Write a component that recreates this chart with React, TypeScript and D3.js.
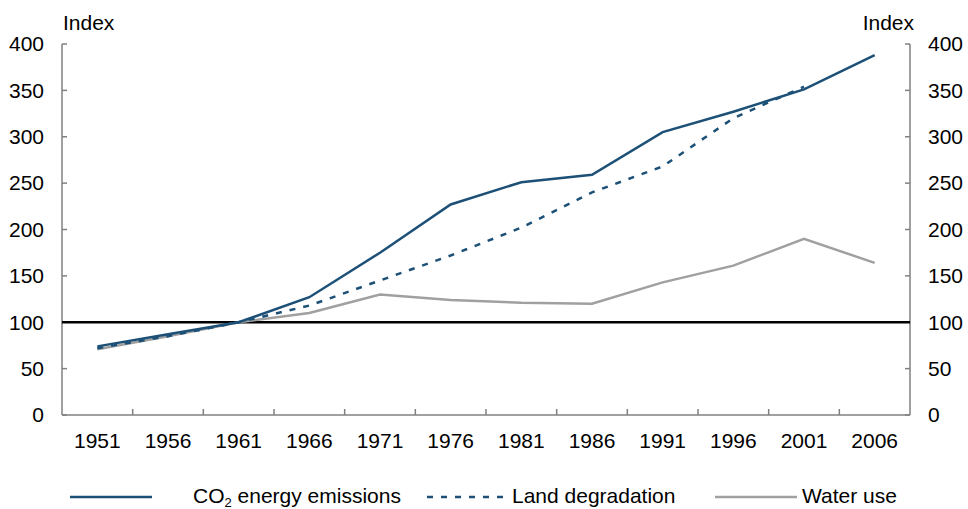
import React from 'react';
import * as d3 from 'd3';

const years = ['1951', '1956', '1961', '1966', '1971', '1976', '1981', '1986', '1991', '1996', '2001', '2006'];
const co2Values = [74, 87, 100, 127, 175, 227, 251, 259, 305, 327, 351, 388];
const landValues = [72, 85, 100, 118, 145, 172, 202, 240, 268, 320, 354];
const waterValues = [71, 85, 100, 110, 130, 124, 121, 120, 143, 161, 190, 164];
const yTicks = [0, 50, 100, 150, 200, 250, 300, 350, 400];

const W = 968;
const H = 509;
const margin = { left: 62, right: 58, top: 44, bottom: 94 };
const FONT = '"Liberation Sans", Arial, sans-serif';
const FS = 21;
const BLUE = '#1d5077';
const GREY = '#a0a0a0';
const AXIS = '#808080';

const App: React.FC = () => {
  const x = d3.scaleBand<string>()
    .domain(years)
    .range([margin.left, W - margin.right]);
  const y = d3.scaleLinear()
    .domain([0, 400])
    .range([H - margin.bottom, margin.top]);

  const cx = (i: number) => (x(years[i]) as number) + x.bandwidth() / 2;
  const line = d3.line<number>()
    .x((_, i) => cx(i))
    .y(d => y(d));

  const x0 = margin.left;
  const x1 = W - margin.right;
  const yBase = y(0);
  const legY = 497;

  return (
    <svg width={W} height={H} style={{ display: 'block', position: 'absolute', left: 0, top: 0 }} fontFamily={FONT}>
      <rect width={W} height={H} fill="white" />
      {/* axes */}
      <line x1={x0} x2={x0} y1={y(400)} y2={yBase} stroke={AXIS} strokeWidth={1.5} />
      <line x1={x1} x2={x1} y1={y(400)} y2={yBase} stroke={AXIS} strokeWidth={1.5} />
      <line x1={x0} x2={x1} y1={yBase} y2={yBase} stroke={AXIS} strokeWidth={1.5} />
      {yTicks.map(t => (
        <g key={t}>
          <line x1={x0} x2={x0 + 5} y1={y(t)} y2={y(t)} stroke={AXIS} strokeWidth={1.5} />
          <line x1={x1 - 5} x2={x1} y1={y(t)} y2={y(t)} stroke={AXIS} strokeWidth={1.5} />
          <text x={x0 - 18} y={y(t)} dy="0.35em" textAnchor="end" fontSize={FS} fill="#000">{t}</text>
          <text x={x1 + 18} y={y(t)} dy="0.35em" textAnchor="start" fontSize={FS} fill="#000">{t}</text>
        </g>
      ))}
      {years.slice(1).map(yr => (
        <line key={yr} x1={x(yr) as number} x2={x(yr) as number} y1={yBase} y2={yBase - 6} stroke={AXIS} strokeWidth={1.5} />
      ))}
      {years.map((yr, i) => (
        <text key={yr} x={cx(i)} y={yBase + 33} textAnchor="middle" fontSize={FS} fill="#000">{yr}</text>
      ))}
      <text x={63} y={30} fontSize={FS} fill="#000">Index</text>
      <text x={914} y={30} fontSize={FS} fill="#000" textAnchor="end">Index</text>

      {/* reference line at 100 */}
      <line x1={x0} x2={x1} y1={y(100)} y2={y(100)} stroke="#000" strokeWidth={2.5} />

      {/* series */}
      <path d={line(waterValues) as string} fill="none" stroke={GREY} strokeWidth={2.5} />
      <path d={line(landValues) as string} fill="none" stroke={BLUE} strokeWidth={2.5} strokeDasharray="6,8" />
      <path d={line(co2Values) as string} fill="none" stroke={BLUE} strokeWidth={2.5} />

      {/* legend */}
      <line x1={70} x2={152} y1={legY} y2={legY} stroke={BLUE} strokeWidth={2.5} />
      <text x={193} y={legY + 6} fontSize={FS} fill="#000">
        CO<tspan fontSize={13} dy={4}>2</tspan><tspan dy={-4}> energy emissions</tspan>
      </text>
      <line x1={427} x2={507} y1={legY} y2={legY} stroke={BLUE} strokeWidth={2.5} strokeDasharray="6,8" />
      <text x={512} y={legY + 6} fontSize={FS} fill="#000">Land degradation</text>
      <line x1={715} x2={797} y1={legY} y2={legY} stroke={GREY} strokeWidth={2.5} />
      <text x={802} y={legY + 6} fontSize={FS} fill="#000">Water use</text>
    </svg>
  );
};

export default App;
